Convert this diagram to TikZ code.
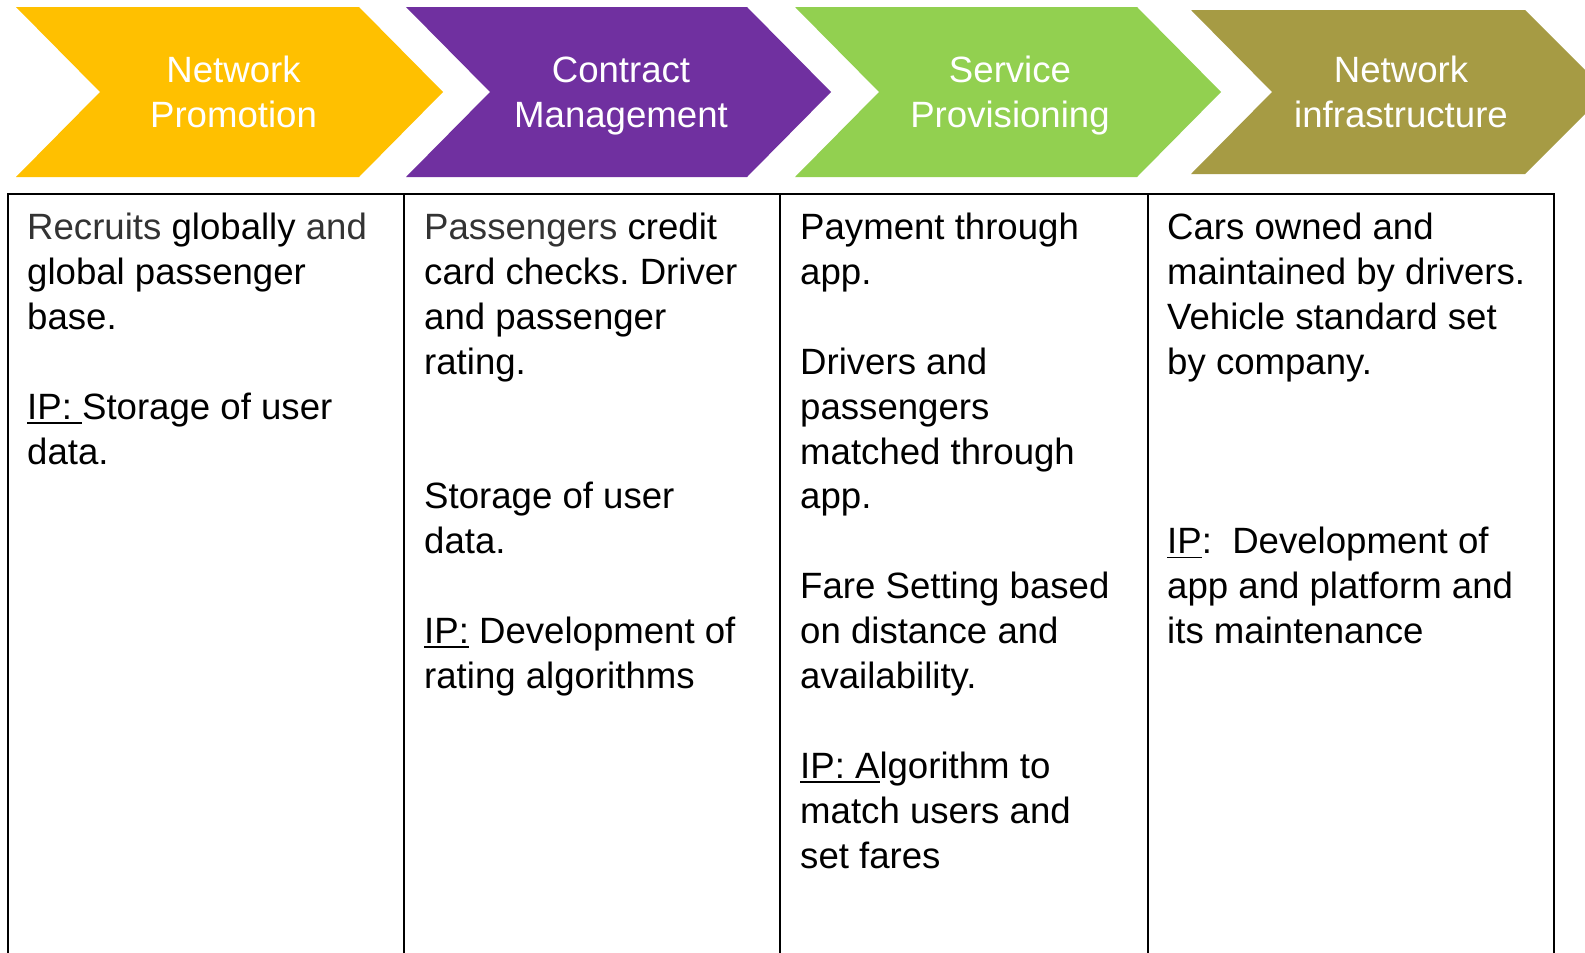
\documentclass[tikz,border=0pt]{standalone}
\usepackage{fontspec}
\setmainfont{Liberation Sans}
\frenchspacing
\definecolor{cyel}{HTML}{FFC000}
\definecolor{cpur}{HTML}{7030A0}
\definecolor{cgrn}{HTML}{92D050}
\definecolor{coli}{HTML}{A69B44}
\newcommand\bodyfont{\fontsize{36.6}{44.9}\selectfont}
\newcommand\lite[1]{\textcolor{black!80}{#1}}
\newcommand\myul[1]{\leavevmode\setbox0\hbox{#1}\rlap{\rule[-4.5pt]{\wd0}{1.8pt}}\box0\relax}
\newcommand\txtline[4]{\node[body] (#1) at (#2,{239.5+44.9*#3}) {#4};}
\tikzset{
  body/.style={anchor=base west, inner sep=0pt, font=\bodyfont, text=black},
  head/.style={anchor=base, inner sep=0pt, font=\bodyfont, text=white},
  grid/.style={draw=black, line width=2.4pt}
}
\begin{document}
\begin{tikzpicture}[x=1pt,y=-1pt]
\clip (0,0) rectangle (1585,953);
\fill[white] (0,0) rectangle (1585,953);
% chevrons
\fill[cyel] (16,7) -- (359,7) -- (443,92) -- (359,177) -- (16,177) -- (100,92) -- cycle;
\fill[cpur] (406,7) -- (747,7) -- (831,92) -- (747,177) -- (406,177) -- (490,92) -- cycle;
\fill[cgrn] (795,7) -- (1137,7) -- (1221,92) -- (1137,177) -- (795,177) -- (879,92) -- cycle;
\fill[coli] (1191,10) -- (1525,10) -- (1607,92) -- (1525,174) -- (1191,174) -- (1272,92) -- cycle;
% header texts
\node[head] (h1a) at (233.5,82.5) {Network};
\node[head] (h1b) at (233.5,127) {Promotion};
\node[head] (h2a) at (621,82.5) {Contract};
\node[head] (h2b) at (621,127) {Management};
\node[head] (h3a) at (1010,82.5) {Service};
\node[head] (h3b) at (1010,127) {Provisioning};
\node[head] (h4a) at (1401,82.5) {Network};
\node[head] (h4b) at (1401,127) {infrastructure};
% table
\draw[grid] (8,970) -- (8,194) -- (1554,194) -- (1554,970);
\draw[grid] (404,194) -- (404,970);
\draw[grid] (780,194) -- (780,970);
\draw[grid] (1148,194) -- (1148,970);
% column 1
\txtline{a0}{27}{0}{\lite{Recruits} globally \lite{and}}
\txtline{a1}{27}{1}{global passenger}
\txtline{a2}{27}{2}{base.}
\txtline{a4}{27}{4}{\myul{IP:\ }Storage of user}
\txtline{a5}{27}{5}{data.}
% column 2
\txtline{b0}{424}{0}{\lite{Passengers} credit}
\txtline{b1}{424}{1}{card checks. Driver}
\txtline{b2}{424}{2}{and passenger}
\txtline{b3}{424}{3}{rating.}
\txtline{b6}{424}{6}{Storage of user}
\txtline{b7}{424}{7}{data.}
\txtline{b9}{424}{9}{\myul{IP:} Development of}
\txtline{b10}{424}{10}{rating algorithms}
% column 3
\txtline{c0}{800}{0}{Payment through}
\txtline{c1}{800}{1}{app.}
\txtline{c3}{800}{3}{Drivers and}
\txtline{c4}{800}{4}{passengers}
\txtline{c5}{800}{5}{matched through}
\txtline{c6}{800}{6}{app.}
\txtline{c8}{800}{8}{Fare Setting based}
\txtline{c9}{800}{9}{on distance and}
\txtline{c10}{800}{10}{availability.}
\txtline{c12}{800}{12}{\myul{IP: A}lgorithm to}
\txtline{c13}{800}{13}{match users and}
\txtline{c14}{800}{14}{set fares}
% column 4
\txtline{d0}{1167}{0}{Cars owned and}
\txtline{d1}{1167}{1}{maintained by drivers.}
\txtline{d2}{1167}{2}{Vehicle standard set}
\txtline{d3}{1167}{3}{by company.}
\txtline{d7}{1167}{7}{\myul{IP}:\ \ Development of}
\txtline{d8}{1167}{8}{app and platform and}
\txtline{d9}{1167}{9}{its maintenance}
\end{tikzpicture}
\end{document}
